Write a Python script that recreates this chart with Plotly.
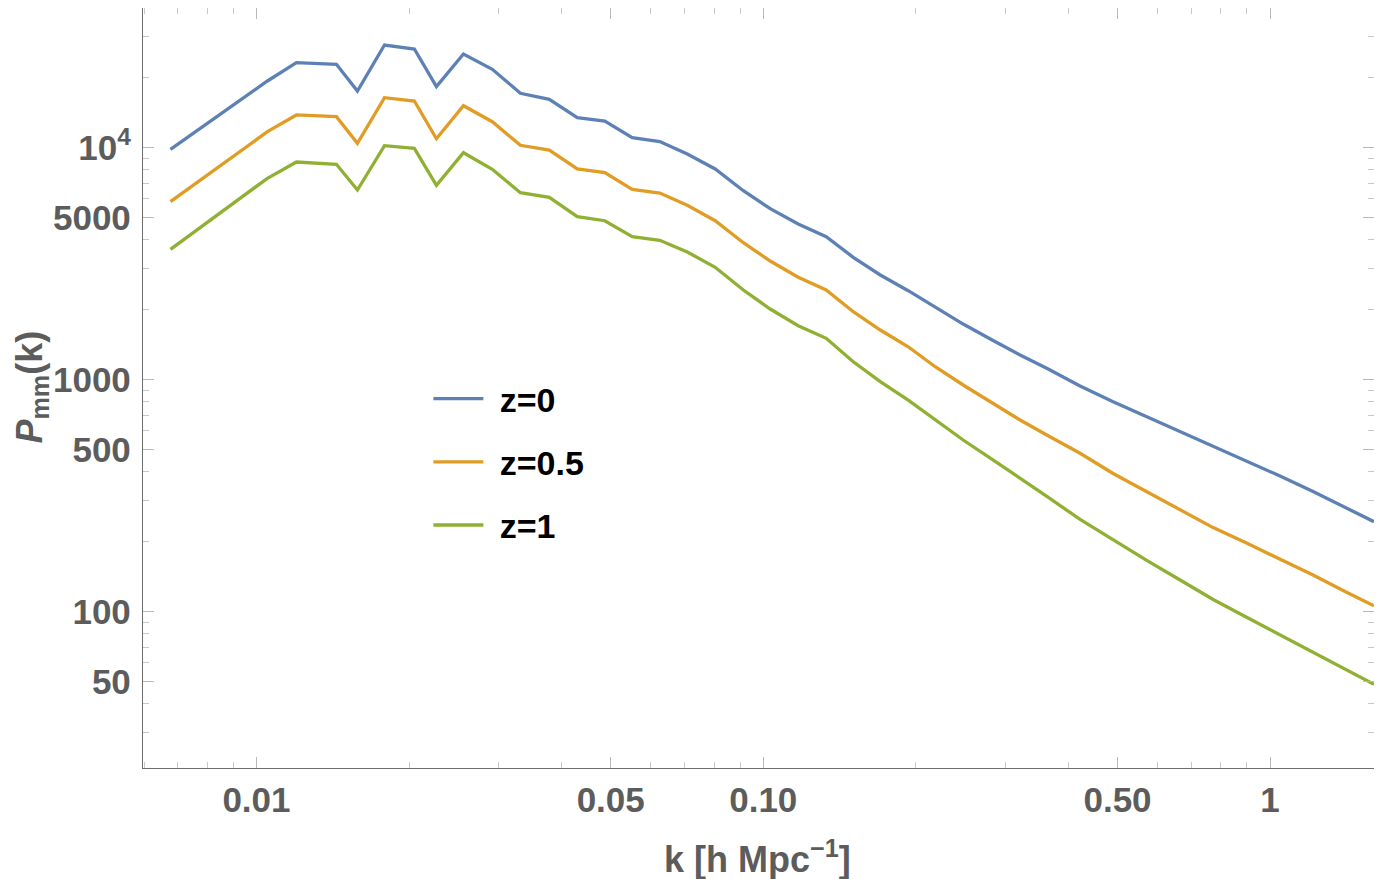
import plotly.graph_objects as go

# wavenumber k [h/Mpc]
k = [0.006766, 0.01051, 0.01199, 0.01438, 0.01582, 0.01789, 0.02049, 0.02265, 0.02561, 0.02920,
     0.03317, 0.03783, 0.04296, 0.04868, 0.05514, 0.06249, 0.07081, 0.08038, 0.09134, 0.1032,
     0.1172, 0.1331, 0.1505, 0.1702, 0.1932, 0.2184, 0.2480, 0.2829, 0.3212, 0.3633,
     0.4218, 0.4901, 0.5720, 0.6645, 0.7721, 0.9007, 1.0464, 1.2157, 1.4187, 1.6035]

p_z0 = [9823, 19350, 23200, 22840, 17520, 27660, 26580, 18290, 25290, 21740,
        17130, 16130, 13440, 13010, 11020, 10610, 9375, 8079, 6513, 5447,
        4680, 4125, 3363, 2821, 2414, 2047, 1734, 1480, 1275, 1115,
        937.6, 802.0, 690.6, 595.7, 517.3, 444.5, 383.7, 329.1, 278.0, 243.8]

p_z05 = [5839, 11700, 13810, 13580, 10420, 16390, 15860, 10910, 15140, 12920,
         10220, 9754, 8079, 7803, 6605, 6366, 5634, 4835, 3888, 3241,
         2758, 2430, 1960, 1634, 1384, 1135, 946.8, 794.3, 668.9, 575.3,
         480.7, 393.4, 327.5, 273.8, 229.9, 196.8, 168.5, 143.5, 120.8, 105.9]

p_z1 = [3640, 7366, 8660, 8465, 6558, 10180, 9921, 6873, 9497, 8056,
        6385, 6101, 5031, 4835, 4125, 3981, 3544, 3046, 2430, 2013,
        1705, 1505, 1193, 978.4, 815.5, 668.9, 548.5, 452.9, 376.2, 312.6,
        249.6, 203.3, 165.6, 136.7, 112.6, 94.2, 79.2, 66.8, 55.7, 48.55]

series_names = ["z=0", "z=0.5", "z=1"]
series_colors = ["#5E81B5", "#E19C24", "#8FB032"]

x_tickvals = [0.01, 0.05, 0.1, 0.5, 1]
x_ticktext = ["0.01", "0.05", "0.10", "0.50", "1"]
x_minor = [0.006, 0.007, 0.008, 0.009, 0.02, 0.03, 0.04, 0.06, 0.07, 0.08, 0.09,
           0.2, 0.3, 0.4, 0.6, 0.7, 0.8, 0.9]
y_tickvals = [50, 100, 500, 1000, 5000, 10000]
y_ticktext = ["50", "100", "500", "1000", "5000", "10<sup>4</sup>"]
y_minor = [30, 40, 60, 70, 80, 90, 200, 300, 400, 600, 700, 800, 900,
           2000, 3000, 4000, 6000, 7000, 8000, 9000, 20000, 30000, 40000]

FONT = "Liberation Sans, Arial, Helvetica, sans-serif"
GRAY = "#5c5c5c"

# page has an 8px body margin: figure is drawn at (8, 8)
OFF = 8
W, H = 1382 - OFF, 879 - OFF
# plot-area edges in figure pixels
L, R, T, B = 142.5 - OFF, 1374 - OFF, 0, 768 - OFF


def px(xs):
    return (xs - OFF - L) / (R - L)


def py(ys):
    return (B - (ys - OFF)) / (B - T)


fig = go.Figure()
for name, ys, col in zip(series_names, [p_z0, p_z05, p_z1], series_colors):
    fig.add_trace(go.Scatter(x=k, y=ys, mode="lines", name="\u2004" + name, legendgroup=name,
                             line=dict(color=col, width=3.3)))

axis_common = dict(
    type="log", showgrid=False, zeroline=False,
    showline=True, linecolor="#6e6e6e", linewidth=1.3, mirror="allticks",
    ticks="inside", ticklen=11, tickwidth=1, tickcolor="#b8b8b8",
    tickfont=dict(family=FONT, size=35, color=GRAY, weight="bold"),
    automargin=False,
)

fig.update_xaxes(**axis_common, range=[-2.2239, 0.2051], tickmode="array",
                 tickvals=x_tickvals, ticktext=x_ticktext, ticklabelstandoff=1,
                 minor=dict(tickmode="array", tickvals=x_minor, ticks="inside",
                            ticklen=6, tickcolor="#c8c8c8", tickwidth=1, showgrid=False))
fig.update_yaxes(**axis_common, range=[1.3254, 4.6056 - 1 / 232], tickmode="array",
                 tickvals=y_tickvals, ticktext=y_ticktext, ticklabelstandoff=4,
                 minor=dict(tickmode="array", tickvals=y_minor, ticks="inside",
                            ticklen=6, tickcolor="#c8c8c8", tickwidth=1, showgrid=False))

fig.add_annotation(text="k [h Mpc<sup>−1</sup>]", xref="paper", yref="paper",
                   x=px(757), y=py(857),
                   showarrow=False, xanchor="center", yanchor="middle",
                   font=dict(family=FONT, size=36, color=GRAY, weight="bold"))
fig.add_annotation(text="<i>P</i><sub>mm</sub>(k)", xref="paper", yref="paper",
                   x=px(31), y=py(387),
                   textangle=-90, showarrow=False, xanchor="center", yanchor="middle",
                   font=dict(family=FONT, size=36, color=GRAY, weight="bold"))

fig.update_layout(
    width=W, height=H,
    margin=dict(l=L, r=W - R, t=T, b=H - B, autoexpand=False),
    paper_bgcolor="white", plot_bgcolor="white",
    showlegend=True,
    legend=dict(xref="paper", yref="paper", x=px(428), y=py(370),
                xanchor="left", yanchor="top", bgcolor="rgba(0,0,0,0)",
                font=dict(family=FONT, size=34, color="black", weight="bold"),
                itemwidth=50, tracegroupgap=16),
)

fig.write_html("out.html")
